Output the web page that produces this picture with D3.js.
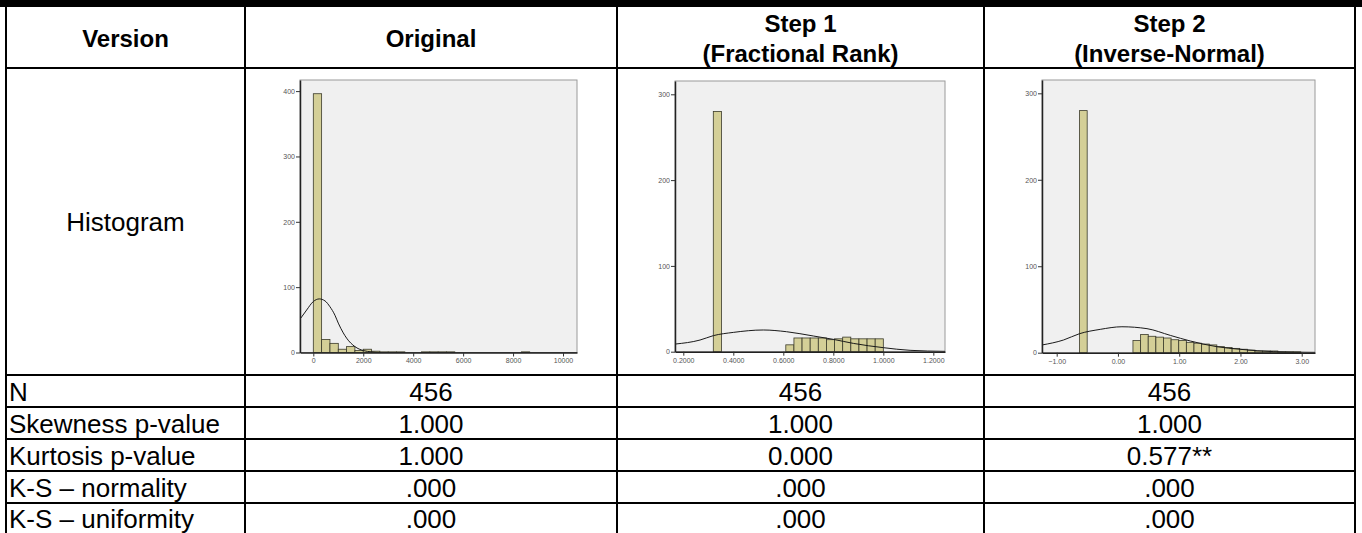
<!DOCTYPE html>
<html>
<head>
<meta charset="utf-8">
<script src="https://cdn.jsdelivr.net/npm/d3@7/dist/d3.min.js"></script>
<style>
  body { margin: 0; background: #fff; }
  svg { display: block; font-family: Arial, "Liberation Sans", sans-serif; }
</style>
</head>
<body>
<div id="chart"></div>
<script>
// table text
const headers = [['Version'], ['Original'], ['Step 1', '(Fractional Rank)'], ['Step 2', '(Inverse-Normal)']];
const rowLabels = ['N', 'Skewness p-value', 'Kurtosis p-value', 'K-S \u2013 normality', 'K-S \u2013 uniformity'];
const originalStats = ['456', '1.000', '1.000', '.000', '.000'];
const step1Stats = ['456', '1.000', '0.000', '.000', '.000'];
const step2Stats = ['456', '1.000', '0.577**', '.000', '.000'];

// original histogram
const originalBinWidth = 333;
const originalBinStart = [0, 333, 667, 1000, 1333, 1667, 2000, 2333, 2667, 3000, 3333, 4333, 4667, 5000, 5333, 8333];
const originalCounts = [396, 20, 14, 5, 9, 3, 5, 2, 1, 1, 1, 1, 1, 1, 1, 1];
const originalCurveX = [-533, -267, 0, 240, 467, 667, 867, 1000, 1200, 1333, 1667, 2000, 2333, 2667, 10560];
const originalCurveY = [51, 65, 78, 82, 79, 70, 57, 45, 30, 22, 9, 3, 1, 0, 0];
const originalXTicks = [0, 2000, 4000, 6000, 8000, 10000];
const originalYTicks = [0, 100, 200, 300, 400];

// step 1 histogram (fractional rank)
const step1BinWidth = 0.0325;
const step1BinStart = [0.3200, 0.6100, 0.6425, 0.6750, 0.7075, 0.7400, 0.7725, 0.8050, 0.8375, 0.8700, 0.9025, 0.9350, 0.9675];
const step1Counts = [280, 8, 16, 16, 16, 16, 14, 15, 17, 15, 15, 15, 15];
const step1CurveX = [0.167, 0.267, 0.32, 0.4, 0.52, 0.613, 0.72, 0.8, 0.88, 1.0, 1.107, 1.247];
const step1CurveY = [8.9, 13.6, 18.7, 22.5, 25.3, 23.3, 18.3, 14.4, 9.7, 4.7, 1.6, 0.4];
const step1XTicks = [0.2, 0.4, 0.6, 0.8, 1.0, 1.2];
const step1YTicks = [0, 100, 200, 300];

// step 2 histogram (inverse-normal)
const step2BinWidth = 0.1245;
const step2BinStart = [-0.627, 0.245, 0.370, 0.494, 0.619, 0.743, 0.868, 0.992, 1.117, 1.241, 1.366, 1.490, 1.615,
  1.739, 1.864, 1.988, 2.113, 2.237, 2.362, 2.486, 2.611, 2.735, 2.860];
const step2Counts = [280, 14, 21, 19, 18, 17, 15, 14, 12, 11, 10, 9, 7, 6, 5, 4, 3, 2, 2, 2, 1, 1, 1];
const step2CurveX = [-1.242, -0.888, -0.627, -0.289, 0.065, 0.474, 0.856, 1.183, 1.619, 2.0, 2.545, 3.226];
const step2CurveY = [8.9, 14.7, 22, 27, 30, 27.8, 20, 13.5, 6.9, 3.9, 1.2, 0.4];
const step2XTicks = [-1, 0, 1, 2, 3];
const step2YTicks = [0, 100, 200, 300];

const width = 1362;
const height = 533;
const colX = [6, 245, 617, 984, 1355];
const rowY = [7, 68, 375, 407, 439, 471, 503, 533];

const svg = d3.select('#chart').append('svg')
    .attr('width', width)
    .attr('height', height);

const panels = [
    {
        binStart: originalBinStart, binWidth: originalBinWidth, counts: originalCounts,
        curveX: originalCurveX, curveY: originalCurveY,
        xTicks: originalXTicks, yTicks: originalYTicks, xFormat: d3.format('d'),
        xDomain: [-533, 10560], yMax: 417,
        left: 300, right: 577, top: 80, bottom: 352.5
    },
    {
        binStart: step1BinStart, binWidth: step1BinWidth, counts: step1Counts,
        curveX: step1CurveX, curveY: step1CurveY,
        xTicks: step1XTicks, yTicks: step1YTicks, xFormat: d3.format('.4f'),
        xDomain: [0.1668, 1.2467], yMax: 315.5,
        left: 675, right: 945, top: 81, bottom: 351.7
    },
    {
        binStart: step2BinStart, binWidth: step2BinWidth, counts: step2Counts,
        curveX: step2CurveX, curveY: step2CurveY,
        xTicks: step2XTicks, yTicks: step2YTicks, xFormat: d3.format('.2f'),
        xDomain: [-1.24, 3.217], yMax: 315.4,
        left: 1042, right: 1315, top: 80, bottom: 352.7
    }
];

panels.forEach((p, i) => drawHistogram(p, i));

function drawHistogram(p, i) {
    const g = svg.append('g');
    const x = d3.scaleLinear().domain(p.xDomain).range([p.left, p.right]);
    const y = d3.scaleLinear().domain([0, p.yMax]).range([p.bottom, p.top]);

    g.append('rect')
        .attr('x', p.left)
        .attr('y', p.top)
        .attr('width', p.right - p.left)
        .attr('height', p.bottom - p.top)
        .attr('fill', '#f0f0f0')
        .attr('stroke', '#9a9a9a')
        .attr('stroke-width', 1);

    const clipId = 'clip' + i;
    g.append('clipPath').attr('id', clipId)
        .append('rect')
        .attr('x', p.left)
        .attr('y', p.top)
        .attr('width', p.right - p.left)
        .attr('height', p.bottom - p.top);

    g.selectAll('rect.bar')
        .data(p.binStart)
        .enter()
        .append('rect')
        .attr('class', 'bar')
        .attr('x', d => x(d))
        .attr('width', d => x(d + p.binWidth) - x(d))
        .attr('y', (d, j) => y(p.counts[j]))
        .attr('height', (d, j) => y(0) - y(p.counts[j]))
        .attr('fill', '#d4cf97')
        .attr('stroke', '#3a3a2a')
        .attr('stroke-width', 0.8);

    const line = d3.line()
        .x(d => x(d[0]))
        .y(d => y(d[1]))
        .curve(d3.curveMonotoneX);

    g.append('path')
        .datum(p.curveX.map((v, j) => [v, p.curveY[j]]))
        .attr('clip-path', 'url(#' + clipId + ')')
        .attr('d', line)
        .attr('fill', 'none')
        .attr('stroke', '#1a1a1a')
        .attr('stroke-width', 1);

    const yAxis = g.append('g')
        .attr('transform', 'translate(' + p.left + ',0)')
        .call(d3.axisLeft(y).tickValues(p.yTicks).tickSize(4).tickSizeOuter(0).tickFormat(d3.format('d')));

    const xAxis = g.append('g')
        .attr('transform', 'translate(0,' + p.bottom + ')')
        .call(d3.axisBottom(x).tickValues(p.xTicks).tickSize(4).tickSizeOuter(0).tickFormat(p.xFormat));

    [yAxis, xAxis].forEach(a => {
        a.select('.domain').attr('stroke', '#222').attr('stroke-width', 1.5);
        a.selectAll('.tick line').attr('stroke', '#333');
        a.selectAll('.tick text')
            .attr('fill', '#555')
            .style('font-size', '7px')
            .style('font-family', 'Arial, "Liberation Sans", sans-serif');
    });
    yAxis.selectAll('.tick text').attr('x', -5);
    xAxis.selectAll('.tick text').attr('y', 6);
}

// table text
const text = svg.append('g').attr('fill', '#000');

headers.forEach((lines, c) => {
    const cx = (colX[c] + colX[c + 1]) / 2;
    const baselines = lines.length === 1 ? [47] : [32, 62];
    lines.forEach((t, k) => {
        text.append('text')
            .attr('x', cx)
            .attr('y', baselines[k])
            .attr('text-anchor', 'middle')
            .style('font-size', '24px')
            .style('font-weight', 'bold')
            .text(t);
    });
});

text.append('text')
    .attr('x', (colX[0] + colX[1]) / 2)
    .attr('y', (rowY[1] + rowY[2]) / 2 + 9)
    .attr('text-anchor', 'middle')
    .style('font-size', '26px')
    .text('Histogram');

const statColumns = [originalStats, step1Stats, step2Stats];

rowLabels.forEach((label, r) => {
    const base = (rowY[r + 2] + rowY[r + 3]) / 2 + 9.5;
    text.append('text')
        .attr('x', colX[0] + 3)
        .attr('y', base)
        .style('font-size', '26px')
        .text(label);
    statColumns.forEach((stats, c) => {
        text.append('text')
            .attr('x', (colX[c + 1] + colX[c + 2]) / 2)
            .attr('y', base)
            .attr('text-anchor', 'middle')
            .style('font-size', '26px')
            .text(stats[r]);
    });
});

// table rules
const rules = svg.append('g').attr('stroke', '#000');

svg.append('rect')
    .attr('x', 0)
    .attr('y', 0)
    .attr('width', width)
    .attr('height', rowY[0])
    .attr('fill', '#000');

colX.forEach(xv => {
    rules.append('line')
        .attr('x1', xv).attr('x2', xv)
        .attr('y1', 0).attr('y2', height)
        .attr('stroke-width', 2);
});

rowY.slice(1, -1).forEach(yv => {
    rules.append('line')
        .attr('x1', colX[0] - 1).attr('x2', colX[colX.length - 1] + 1)
        .attr('y1', yv).attr('y2', yv)
        .attr('stroke-width', 2);
});
</script>
</body>
</html>
